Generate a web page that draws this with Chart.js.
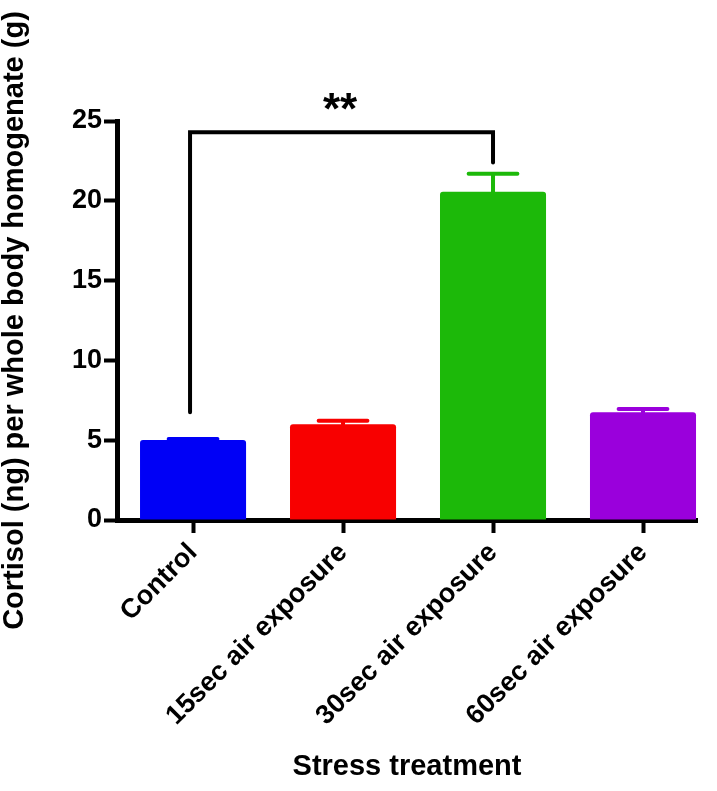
<!DOCTYPE html>
<html>
<head>
<meta charset="utf-8">
<script src="https://cdn.jsdelivr.net/npm/chart.js@4/dist/chart.umd.min.js"></script>
<style>
  html, body { margin: 0; padding: 0; background: #fff; }
</style>
</head>
<body>
<canvas id="chart" width="717" height="791"></canvas>
<script>
var categories = ['Control', '15sec air exposure', '30sec air exposure', '60sec air exposure'];
var means = [5.01, 6.0, 20.57, 6.75];
var errors = [0.07, 0.22, 1.13, 0.2];
var barColors = ['#0000f6', '#f80000', '#1cb909', '#9a00dc'];
var yTicks = [0, 5, 10, 15, 20, 25];

// significance bracket: Control vs 30sec
var sigPair = [0, 2];
var sigLegEnds = [6.75, 22.4];
var sigTop = 24.3;
var sigLabel = '**';

var fontFamily = '"Liberation Sans", Arial, Helvetica, sans-serif';

var points = means.map(function (m, i) {
  return { x: i, y: m };
});

// upper error bars, coloured like their bar
var errorBars = {
  id: 'errorBars',
  afterDatasetsDraw: function (chart) {
    var ctx = chart.ctx;
    var yScale = chart.scales.y;
    var meta = chart.getDatasetMeta(0);
    ctx.save();
    ctx.lineWidth = 4;
    ctx.lineCap = 'round';
    meta.data.forEach(function (bar, i) {
      var top = yScale.getPixelForValue(means[i] + errors[i]);
      var half = bar.width * 0.23;
      ctx.strokeStyle = barColors[i];
      ctx.beginPath();
      ctx.moveTo(bar.x, bar.y);
      ctx.lineTo(bar.x, top);
      ctx.moveTo(bar.x - half, top);
      ctx.lineTo(bar.x + half, top);
      ctx.stroke();
    });
    ctx.restore();
  }
};

var sigBracket = {
  id: 'sigBracket',
  afterDraw: function (chart) {
    var ctx = chart.ctx;
    var xScale = chart.scales.x;
    var yScale = chart.scales.y;
    var x1 = xScale.getPixelForValue(sigPair[0]);
    var x2 = xScale.getPixelForValue(sigPair[1]);
    var yTop = yScale.getPixelForValue(sigTop);
    ctx.save();
    ctx.strokeStyle = '#000';
    ctx.lineWidth = 4;
    ctx.lineCap = 'round';
    ctx.lineJoin = 'miter';
    ctx.beginPath();
    ctx.moveTo(x1 - 3, yScale.getPixelForValue(sigLegEnds[0]));
    ctx.lineTo(x1 - 3, yTop);
    ctx.lineTo(x2, yTop);
    ctx.lineTo(x2, yScale.getPixelForValue(sigLegEnds[1]));
    ctx.stroke();
    ctx.fillStyle = '#000';
    ctx.font = 'bold 44px ' + fontFamily;
    ctx.textAlign = 'center';
    ctx.textBaseline = 'middle';
    ctx.fillText(sigLabel, (x1 + x2) / 2 - 3, yTop - 20);
    ctx.restore();
  }
};

new Chart(document.getElementById('chart'), {
  type: 'bar',
  data: {
    datasets: [
      {
        data: points,
        backgroundColor: barColors,
        borderWidth: 0,
        borderRadius: 3,
        borderSkipped: 'bottom',
        categoryPercentage: 1,
        barPercentage: 0.707
      }
    ]
  },
  options: {
    responsive: false,
    animation: false,
    devicePixelRatio: 1,
    layout: {
      padding: { top: 121, right: 20, bottom: 0, left: 0 }
    },
    plugins: {
      legend: { display: false },
      tooltip: { enabled: false }
    },
    scales: {
      x: {
        type: 'linear',
        min: -0.507,
        max: 3.36,
        offset: false,
        afterFit: function (scale) {
          scale.height = 271;
        },
        border: { display: true, color: '#000', width: 5 },
        grid: {
          display: true,
          offset: false,
          drawOnChartArea: false,
          drawTicks: true,
          tickLength: 13,
          tickWidth: 4,
          tickColor: '#000'
        },
        ticks: {
          stepSize: 1,
          includeBounds: false,
          autoSkip: false,
          maxRotation: 45,
          minRotation: 45,
          padding: 4,
          color: '#000',
          font: { family: fontFamily, size: 27, weight: 'bold' },
          callback: function (value) {
            return categories[value];
          }
        },
        title: {
          display: true,
          text: 'Stress treatment',
          color: '#000',
          font: { family: fontFamily, size: 29, weight: 'bold', lineHeight: 1 },
          padding: { top: 0, bottom: 10 }
        }
      },
      y: {
        min: 0,
        max: 25,
        afterFit: function (scale) {
          scale.width = 117;
        },
        afterBuildTicks: function (scale) {
          scale.ticks = yTicks.map(function (v) {
            return { value: v };
          });
        },
        border: { display: true, color: '#000', width: 5 },
        grid: {
          display: true,
          drawOnChartArea: false,
          drawTicks: true,
          tickLength: 13,
          tickWidth: 4,
          tickColor: '#000'
        },
        ticks: {
          padding: 2,
          color: '#000',
          font: { family: fontFamily, size: 27, weight: 'bold' }
        },
        title: {
          display: true,
          text: 'Cortisol (ng) per whole body homogenate (g)',
          color: '#000',
          font: { family: fontFamily, size: 29, weight: 'bold', lineHeight: 1 },
          padding: { top: 0, bottom: 0 }
        }
      }
    }
  },
  plugins: [errorBars, sigBracket]
});
</script>
</body>
</html>
